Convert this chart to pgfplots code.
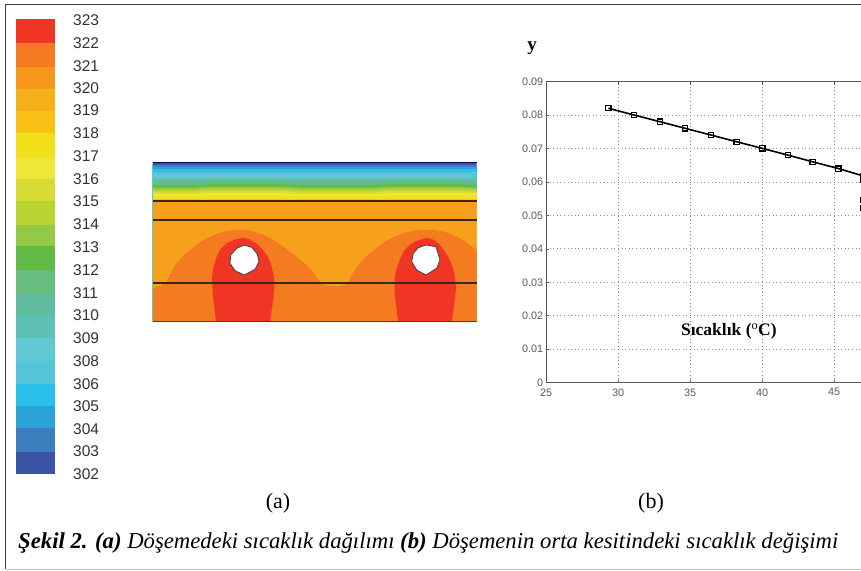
\documentclass[border=0pt]{standalone}
\usepackage{pgfplots}
\pgfplotsset{compat=1.18}
\usepackage{fontspec}
\setmainfont{Liberation Serif}
\newfontfamily\arialf{Liberation Sans}
\definecolor{c323}{HTML}{F03524}
\definecolor{c322}{HTML}{F47B20}
\definecolor{c321}{HTML}{F6981C}
\definecolor{c320}{HTML}{F6B01A}
\definecolor{c319}{HTML}{F9C015}
\definecolor{c318}{HTML}{F3E01C}
\definecolor{c317}{HTML}{EFE635}
\definecolor{c316}{HTML}{D6DC33}
\definecolor{c315}{HTML}{BAD531}
\definecolor{c314}{HTML}{94C945}
\definecolor{c313}{HTML}{62BB46}
\definecolor{c312}{HTML}{66BD7D}
\definecolor{c311}{HTML}{60BC9E}
\definecolor{c310}{HTML}{5FC0B6}
\definecolor{c309}{HTML}{62C8D4}
\definecolor{c308}{HTML}{56C5DB}
\definecolor{c306}{HTML}{2BBFEC}
\definecolor{c305}{HTML}{2AA3D9}
\definecolor{c304}{HTML}{3B7FBF}
\definecolor{c303}{HTML}{3A53A4}
\definecolor{cmain}{HTML}{F6A01B}
\newcommand\band[3]{\addplot[draw=none,fill=#3] coordinates {(16,#1)(54.5,#1)(54.5,#2)(16,#2)} --cycle;}
\newcommand\lab[2]{\node[anchor=west,text=black!80,font=\arialf\fontsize{15.5}{17}\selectfont,inner sep=0pt] at (axis cs:73,#1) {#2};}
\newcommand\cband[3]{\addplot[draw=none,fill=#3] coordinates {(152.7,#1)(195,#1)(215,#1-#2)(275,#1-#2)(300,#1)(375,#1)(395,#1-#2)(455,#1-#2)(476.7,#1)(476.7,321.7)(152.7,321.7)} --cycle;}
\begin{document}
\begin{tikzpicture}[x=1pt,y=1pt]
\clip (0,0) rectangle (861,570);
\begin{axis}[at={(0,0)},anchor=south west,scale only axis,width=861pt,height=570pt,
  xmin=0,xmax=861,ymin=0,ymax=570,y dir=reverse,hide axis,clip=false]
% frame
\addplot[draw=black!75,line width=1.5pt] coordinates {(861,4.5)(5.5,4.5)(5.5,569)};
\addplot[draw=black!25,line width=1pt] coordinates {(5.5,569)(861,569)};
% colour bar
\band{19}{43}{c323}
\band{43}{66.7}{c322}
\band{66.7}{88.7}{c321}
\band{88.7}{110.7}{c320}
\band{110.7}{133}{c319}
\band{133}{156.7}{c318}
\band{156.7}{179.3}{c317}
\band{179.3}{201}{c316}
\band{201}{225}{c315}
\band{225}{246}{c314}
\band{246}{270}{c313}
\band{270}{293.7}{c312}
\band{293.7}{315.3}{c311}
\band{315.3}{337.7}{c310}
\band{337.7}{361.3}{c309}
\band{361.3}{384}{c308}
\band{384}{406}{c306}
\band{406}{428.3}{c305}
\band{428.3}{451.7}{c304}
\band{451.7}{474.3}{c303}
\lab{20.5}{323}\lab{43}{322}\lab{66}{321}\lab{88}{320}\lab{110.5}{319}\lab{133.5}{318}
\lab{156}{317}\lab{179}{316}\lab{201.5}{315}\lab{224}{314}\lab{247}{313}\lab{270}{312}
\lab{293}{311}\lab{315.5}{310}\lab{338}{309}\lab{361}{308}\lab{384}{306}\lab{406.5}{305}
\lab{429}{304}\lab{451.5}{303}\lab{474}{302}
% contour: layered bands, top to bottom
\cband{162}{0}{c303}
\cband{165}{0}{c304}
\cband{167}{0}{c305}
\cband{169}{0}{c306}
\cband{172}{0}{c308}
\cband{175}{0}{c309}
\cband{177.5}{0}{c310}
\cband{180}{0}{c311}
\cband{182.5}{0.5}{c312}
\cband{185}{0.8}{c313}
\cband{187.5}{1}{c314}
\cband{189.5}{1}{c315}
\cband{191.5}{0.8}{c316}
\cband{193.5}{0.5}{c317}
\cband{196}{0.3}{c318}
\cband{199}{0}{c319}
\cband{201}{0}{cmain}
% 322 region
\addplot[draw=none,fill=c322] coordinates {
 (152.7,288.3)(160,286)(166,283)(170,275)(175,265.5)(182,257)(190,250)(198,243.5)(207,238)(216,234)
 (226,231)(238,229.8)(250,230.5)(262,234)(273,239.5)(282,245.5)(290,251.7)(299,258.5)(307,265.5)
 (313,272)(318,279.5)(322,283.5)(327,285.5)(336,286.5)(345,285)(349,281)(353,273)(359,264.5)
 (367,256)(375,249)(384,242.5)(394,237)(404,233)(414,230.5)(424,229.8)(434,230)(444,231.7)
 (452,234.5)(460,238.3)(468,243.5)(476.7,250)
 (476.7,321.7)(152.7,321.7)} --cycle;
% 323 regions
\addplot[draw=none,fill=c323] coordinates {
 (216,321.7)(214,305)(212.7,292)(212,278)(213.5,267)(216.7,256.5)(221,248.5)(227,243)(235,239.5)
 (243.3,237.7)(250,239.5)(257,244)(263,250)(268,257)(271.5,266)(274,277)(274.5,287)(273.5,297)
 (272,308)(270,321.7)} --cycle;
\addplot[draw=none,fill=c323] coordinates {
 (398.3,321.7)(396,305)(394.5,290)(394.5,280)(396.5,269)(400,259)(404,251)(409,245.5)(416,241)
 (426.7,237.7)(433,239.5)(438.5,243.5)(444,250.5)(449,258)(452.5,267)(455,277)(456,288)(455,298)
 (453.5,310)(451.7,321.7)} --cycle;
% pipes
\addplot[draw=black!75,fill=white,line width=0.8pt] coordinates {
 (236.7,248.3)(244.3,245)(251.7,247.3)(257.3,254)(259,261.7)(255,269.3)(244.3,275)(235,270.7)(230,263.3)(230.7,255)} --cycle;
\addplot[draw=black!75,fill=white,line width=0.8pt] coordinates {
 (418.3,247.7)(426,245)(436,246.7)(440,260)(436.7,268.3)(426,275)(416.7,270)(411.7,261.7)(413.3,253.3)} --cycle;
% layer lines and edges
\addplot[draw=c309,line width=1pt] coordinates {(152.7,164)(152.7,321)};
\addplot[draw=black!70!brown,line width=1.1pt] coordinates {(152.7,201)(476.7,201)};
\addplot[draw=black!70!brown,line width=1.1pt] coordinates {(152.7,220)(476.7,220)};
\addplot[draw=black!70!brown,line width=1.1pt] coordinates {(152.7,283)(476.7,283)};
\addplot[draw=black!75,line width=1.1pt] coordinates {(152.7,321.7)(476.7,321.7)};
\addplot[draw=black!60!blue,line width=1pt] coordinates {(152.7,162)(476.7,162)};
% texts
\node[font=\bfseries\fontsize{19}{21}\selectfont] at (axis cs:532,48) {y};
\node[font=\fontsize{22}{24}\selectfont] at (axis cs:278,503) {(a)};
\node[font=\fontsize{22}{24}\selectfont] at (axis cs:651,503) {(b)};
\node[anchor=west,inner sep=0pt,font=\itshape\fontsize{22.7}{25}\selectfont] at (axis cs:18,543)
 {\textbf{Şekil 2. (a)} Döşemedeki sıcaklık dağılımı \textbf{(b)} Döşemenin orta kesitindeki sıcaklık değişimi};
\end{axis}
\begin{axis}[at={(546pt,187.3pt)},anchor=south west,scale only axis,width=360pt,height=301.2pt,
  xmin=25,xmax=50,ymin=0,ymax=0.09,
  xtick={25,30,35,40,45},xticklabels={25,30,35,40,45},
  ytick={0,0.01,0.02,0.03,0.04,0.05,0.06,0.07,0.08,0.09},
  yticklabels={0,0.01,0.02,0.03,0.04,0.05,0.06,0.07,0.08,0.09},
  scaled y ticks=false,
  tick label style={font=\arialf\fontsize{10.8}{12}\selectfont,text=black!65,inner sep=1pt},
  xticklabel style={yshift=-4.6pt},
  yticklabel style={xshift=-1.6pt},
  axis line style={draw=black!65,line width=0.9pt},
  major tick style={draw=black!65,line width=0.6pt},
  tick align=inside,major tick length=3pt,
  xtick pos=both,ytick pos=left,
  grid=major,major grid style={draw=black!45,line width=0.7pt,dash pattern=on 0.8pt off 2.8pt}]
\addplot[black,line width=1.6pt,mark=square,mark size=2.6pt,mark options={solid,line width=1.2pt,fill=none}] coordinates {
 (29.33,0.082)(31.11,0.080)(32.9,0.078)(34.67,0.076)(36.46,0.074)(38.24,0.072)(40.03,0.070)
 (41.81,0.068)(43.52,0.066)(45.3,0.064)(47.02,0.0618)(47.02,0.0605)(47.02,0.0546)(47.02,0.0522)};
\node[font=\bfseries\fontsize{17.5}{19}\selectfont] at (axis cs:37.7,0.0154) {Sıcaklık ($^{\mathrm{o}}$C)};
\end{axis}
\end{tikzpicture}
\end{document}
